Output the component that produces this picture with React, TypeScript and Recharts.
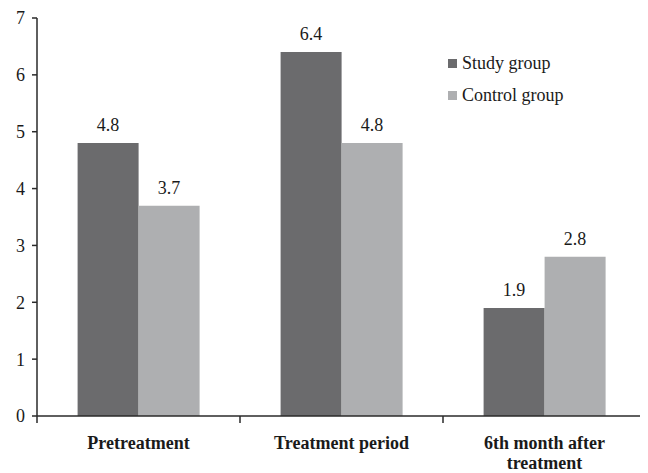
import React from "react";
import { BarChart, Bar, XAxis, YAxis, Legend, LabelList, Text } from "recharts";

const categories = ["Pretreatment", "Treatment period", "6th month after treatment"];
const studyGroup = [4.8, 6.4, 1.9];
const controlGroup = [3.7, 4.8, 2.8];
const yTicks = [0, 1, 2, 3, 4, 5, 6, 7];

const data = categories.map((c, i) => ({ name: c, study: studyGroup[i], control: controlGroup[i] }));

const FONT = "Liberation Serif";
const STUDY = "#6b6b6d";
const CONTROL = "#aeafb1";
const AXIS = "#2a2a2a";

const CategoryTick = (props: any) => {
  const { x, y, payload, index } = props;
  const off = payload && payload.offset ? payload.offset : 101.5;
  return (
    <g>
      {index === 0 && <line x1={x - off} y1={y} x2={x - off} y2={y + 7} stroke={AXIS} strokeWidth={1.5} />}
      <line x1={x + off} y1={y} x2={x + off} y2={y + 7} stroke={AXIS} strokeWidth={1.5} />
      <Text
        x={x}
        y={y + 20}
        width={170}
        textAnchor="middle"
        verticalAnchor="start"
        lineHeight={20}
        style={{ fontFamily: FONT, fontWeight: "bold", fontSize: 18, fill: "#1a1a1a" }}
      >
        {payload.value}
      </Text>
    </g>
  );
};

const LegendContent = () => (
  <div style={{ fontFamily: FONT, fontSize: 18, color: "#1a1a1a", lineHeight: "32px" }}>
    {[
      { label: "Study group", color: STUDY },
      { label: "Control group", color: CONTROL },
    ].map((it) => (
      <div key={it.label} style={{ display: "flex", alignItems: "center" }}>
        <span style={{ display: "inline-block", width: 9, height: 9, background: it.color, marginRight: 5 }} />
        <span>{it.label}</span>
      </div>
    ))}
  </div>
);

export default function App() {
  return (
    <div style={{ fontFamily: FONT }}>
      <BarChart
        width={640}
        height={465}
        data={data}
        margin={{ top: 10, right: 2, bottom: 0, left: 0 }}
        barGap={0}
        barCategoryGap="20%"
      >
        <XAxis
          dataKey="name"
          height={57}
          tickLine={false}
          tickSize={0}
          tickMargin={0}
          interval={0}
          stroke={AXIS}
          strokeWidth={1.5}
          tick={<CategoryTick />}
        />
        <YAxis
          width={29}
          domain={[0, 7]}
          ticks={yTicks}
          interval={0}
          tickSize={5}
          tickMargin={7}
          stroke={AXIS}
          strokeWidth={1.5}
          tick={{ fontSize: 18, fill: "#1a1a1a", style: { fontFamily: FONT } }}
        />
        <Legend
          layout="vertical"
          verticalAlign="middle"
          align="center"
          content={<LegendContent />}
          wrapperStyle={{ left: 440, top: 39, width: 190 }}
        />
        <Bar dataKey="study" name="Study group" fill={STUDY} isAnimationActive={false}>
          <LabelList dataKey="study" position="top" offset={12} style={{ fontFamily: FONT, fontSize: 18, fill: "#1a1a1a" }} />
        </Bar>
        <Bar dataKey="control" name="Control group" fill={CONTROL} isAnimationActive={false}>
          <LabelList dataKey="control" position="top" offset={12} style={{ fontFamily: FONT, fontSize: 18, fill: "#1a1a1a" }} />
        </Bar>
      </BarChart>
    </div>
  );
}
